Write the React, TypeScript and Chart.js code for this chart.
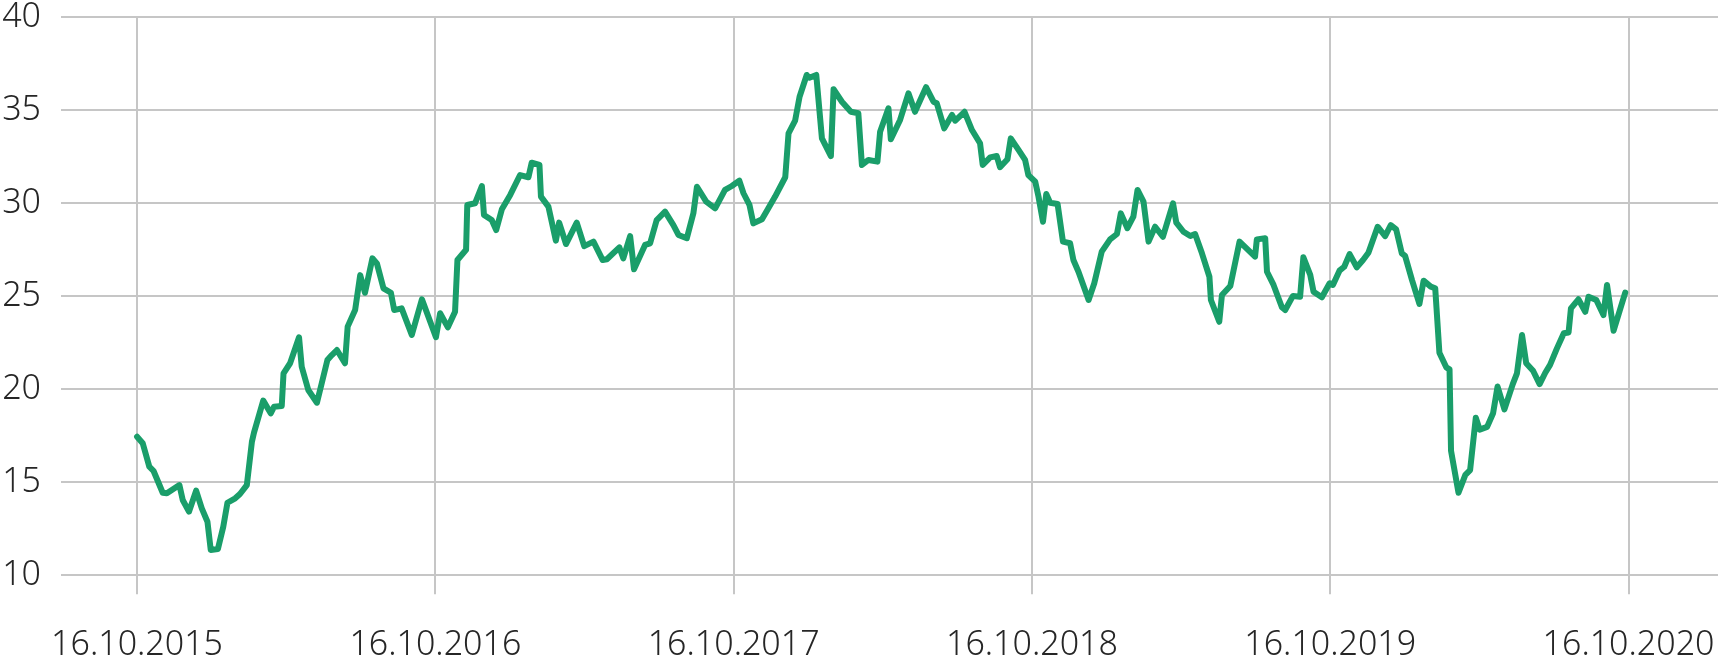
import React, { useEffect, useRef } from 'react';
import { Chart, registerables } from 'chart.js';

Chart.register(...registerables);

// Tick positions (years since 16.10.2015) and their labels
const tickYears = [0, 1, 2, 3, 4, 5];
const tickLabels = ['16.10.2015', '16.10.2016', '16.10.2017', '16.10.2018', '16.10.2019', '16.10.2020'];
const yTicks = [10, 15, 20, 25, 30, 35, 40];

// Observation times (years since 16.10.2015)
const times = [
  0.000, 0.019, 0.041, 0.055, 0.086, 0.100, 0.142, 0.153, 0.174, 0.198,
  0.217, 0.236, 0.247, 0.271, 0.289, 0.303, 0.329, 0.345, 0.368, 0.385,
  0.392, 0.423, 0.448, 0.459, 0.485, 0.491, 0.513, 0.543, 0.552, 0.574,
  0.603, 0.619, 0.638, 0.653, 0.670, 0.697, 0.706, 0.731, 0.748, 0.764,
  0.789, 0.804, 0.826, 0.851, 0.862, 0.887, 0.921, 0.955, 1.002, 1.016,
  1.042, 1.066, 1.074, 1.103, 1.107, 1.133, 1.156, 1.163, 1.189, 1.204,
  1.223, 1.251, 1.284, 1.312, 1.323, 1.349, 1.354, 1.379, 1.404, 1.415,
  1.438, 1.474, 1.499, 1.530, 1.561, 1.575, 1.617, 1.630, 1.653, 1.666,
  1.703, 1.720, 1.742, 1.770, 1.798, 1.815, 1.843, 1.865, 1.877, 1.908,
  1.938, 1.971, 1.994, 2.019, 2.033, 2.053, 2.066, 2.095, 2.113, 2.139,
  2.173, 2.184, 2.206, 2.221, 2.245, 2.254, 2.277, 2.296, 2.326, 2.335,
  2.363, 2.393, 2.418, 2.430, 2.452, 2.482, 2.491, 2.519, 2.527, 2.558,
  2.586, 2.608, 2.645, 2.670, 2.681, 2.706, 2.732, 2.743, 2.774, 2.799,
  2.826, 2.835, 2.860, 2.882, 2.893, 2.918, 2.929, 2.955, 2.977, 2.988,
  3.011, 3.022, 3.037, 3.048, 3.061, 3.086, 3.104, 3.128, 3.139, 3.156,
  3.190, 3.209, 3.234, 3.262, 3.285, 3.298, 3.320, 3.340, 3.354, 3.374,
  3.391, 3.413, 3.439, 3.473, 3.484, 3.508, 3.531, 3.547, 3.570, 3.595,
  3.600, 3.628, 3.637, 3.665, 3.696, 3.748, 3.754, 3.782, 3.788, 3.810,
  3.838, 3.849, 3.875, 3.899, 3.910, 3.933, 3.944, 3.972, 3.998, 4.009,
  4.031, 4.047, 4.065, 4.089, 4.110, 4.128, 4.159, 4.184, 4.203, 4.221,
  4.240, 4.251, 4.274, 4.299, 4.313, 4.337, 4.352, 4.366, 4.389, 4.400,
  4.405, 4.430, 4.453, 4.469, 4.488, 4.501, 4.526, 4.546, 4.561, 4.584,
  4.612, 4.626, 4.643, 4.657, 4.680, 4.702, 4.721, 4.737, 4.760, 4.783,
  4.799, 4.807, 4.832, 4.855, 4.866, 4.892, 4.916, 4.928, 4.950, 4.989,
];

// Values
const values = [
  17.45, 17.10, 15.84, 15.62, 14.44, 14.41, 14.85, 14.05, 13.42, 14.55,
  13.60, 12.88, 11.36, 11.41, 12.61, 13.90, 14.14, 14.37, 14.85, 17.18,
  17.67, 19.39, 18.71, 19.06, 19.10, 20.86, 21.40, 22.80, 21.21, 19.96,
  19.28, 20.32, 21.57, 21.84, 22.11, 21.40, 23.37, 24.26, 26.14, 25.19,
  27.04, 26.77, 25.43, 25.19, 24.26, 24.35, 22.92, 24.84, 22.80, 24.09,
  23.33, 24.17, 26.95, 27.50, 29.91, 30.00, 30.93, 29.37, 29.10, 28.56,
  29.68, 30.45, 31.52, 31.40, 32.18, 32.06, 30.36, 29.82, 27.99, 28.96,
  27.81, 28.96, 27.70, 27.94, 26.95, 26.99, 27.63, 27.04, 28.24, 26.45,
  27.76, 27.85, 29.10, 29.55, 28.83, 28.30, 28.12, 29.46, 30.89, 30.09,
  29.73, 30.72, 30.93, 31.22, 30.54, 29.91, 28.92, 29.14, 29.64, 30.36,
  31.40, 33.76, 34.44, 35.73, 36.90, 36.75, 36.90, 33.49, 32.54, 36.13,
  35.46, 34.92, 34.84, 32.06, 32.33, 32.24, 33.85, 35.11, 33.44, 34.48,
  35.91, 34.92, 36.24, 35.46, 35.38, 34.03, 34.75, 34.44, 34.92, 33.94,
  33.23, 32.06, 32.47, 32.54, 31.94, 32.37, 33.49, 32.87, 32.33, 31.52,
  31.16, 30.36, 29.01, 30.50, 30.03, 29.96, 27.94, 27.85, 26.95, 26.32,
  24.80, 25.70, 27.40, 28.06, 28.35, 29.46, 28.66, 29.28, 30.72, 30.09,
  27.94, 28.74, 28.20, 30.00, 28.96, 28.47, 28.24, 28.35, 27.31, 26.05,
  24.80, 23.63, 25.07, 25.55, 27.94, 27.13, 28.06, 28.12, 26.32, 25.61,
  24.41, 24.26, 25.02, 24.98, 27.10, 26.15, 25.25, 24.95, 25.70, 25.61,
  26.38, 26.59, 27.27, 26.56, 26.95, 27.34, 28.74, 28.24, 28.83, 28.60,
  27.31, 27.17, 25.88, 24.59, 25.84, 25.52, 25.43, 21.97, 21.18, 21.07,
  16.70, 14.44, 15.40, 15.66, 18.47, 17.83, 17.98, 18.71, 20.15, 18.92,
  20.28, 20.86, 22.92, 21.40, 21.00, 20.28, 20.89, 21.31, 22.20, 23.01,
  23.05, 24.35, 24.84, 24.17, 24.98, 24.80, 23.99, 25.61, 23.15, 25.20,
];

const LABEL_FONT = { family: '"Noto Sans", "DejaVu Sans", sans-serif', size: 34, weight: 300 };
const TEXT_COLOR = '#262626';
const GRID_COLOR = '#c6c6c6';
const LINE_COLOR = '#1a9e6a';

export default function App() {
  const ref = useRef<HTMLCanvasElement>(null);

  useEffect(() => {
    document.body.style.margin = '0';
    const canvas = ref.current;
    if (!canvas) return;
    const chart = new Chart(canvas, {
      type: 'line',
      data: {
        datasets: [
          {
            data: times.map((t, i) => ({ x: t, y: values[i] })),
            borderColor: LINE_COLOR,
            borderWidth: 6,
            pointRadius: 0,
            tension: 0,
            fill: false,
            borderJoinStyle: 'round',
            borderCapStyle: 'round',
          },
        ],
      },
      options: {
        animation: false,
        responsive: false,
        maintainAspectRatio: false,
        layout: { padding: 0 },
        plugins: { legend: { display: false }, tooltip: { enabled: false } },
        scales: {
          x: {
            type: 'linear',
            min: -0.255,
            max: 5.3,
            afterBuildTicks: (s: any) => {
              s.ticks = tickYears.map((v) => ({ value: v }));
            },
            afterFit: (s: any) => {
              s.height = 82.7;
              s.paddingLeft = 0;
              s.paddingRight = 0;
            },
            border: { display: false },
            grid: { color: GRID_COLOR, lineWidth: 2, drawTicks: true, tickLength: 19 },
            ticks: {
              autoSkip: false,
              maxRotation: 0,
              padding: 31,
              color: TEXT_COLOR,
              font: LABEL_FONT,
              callback: (v: any) => tickLabels[tickYears.indexOf(Number(v))] ?? '',
            },
          },
          y: {
            min: 10,
            max: 40,
            afterBuildTicks: (s: any) => {
              s.ticks = yTicks.map((v) => ({ value: v }));
            },
            afterFit: (s: any) => {
              s.width = 61;
              s.paddingTop = 17.3;
              s.paddingBottom = 0;
            },
            border: { display: false },
            grid: { color: GRID_COLOR, lineWidth: 2, drawTicks: false },
            ticks: {
              padding: 20,
              color: TEXT_COLOR,
              font: LABEL_FONT,
            },
          },
        },
      },
    });
    return () => chart.destroy();
  }, []);

  return (
    <div style={{ width: 1718, height: 658 }}>
      <canvas ref={ref} width={1718} height={658} style={{ display: 'block' }} />
    </div>
  );
}
